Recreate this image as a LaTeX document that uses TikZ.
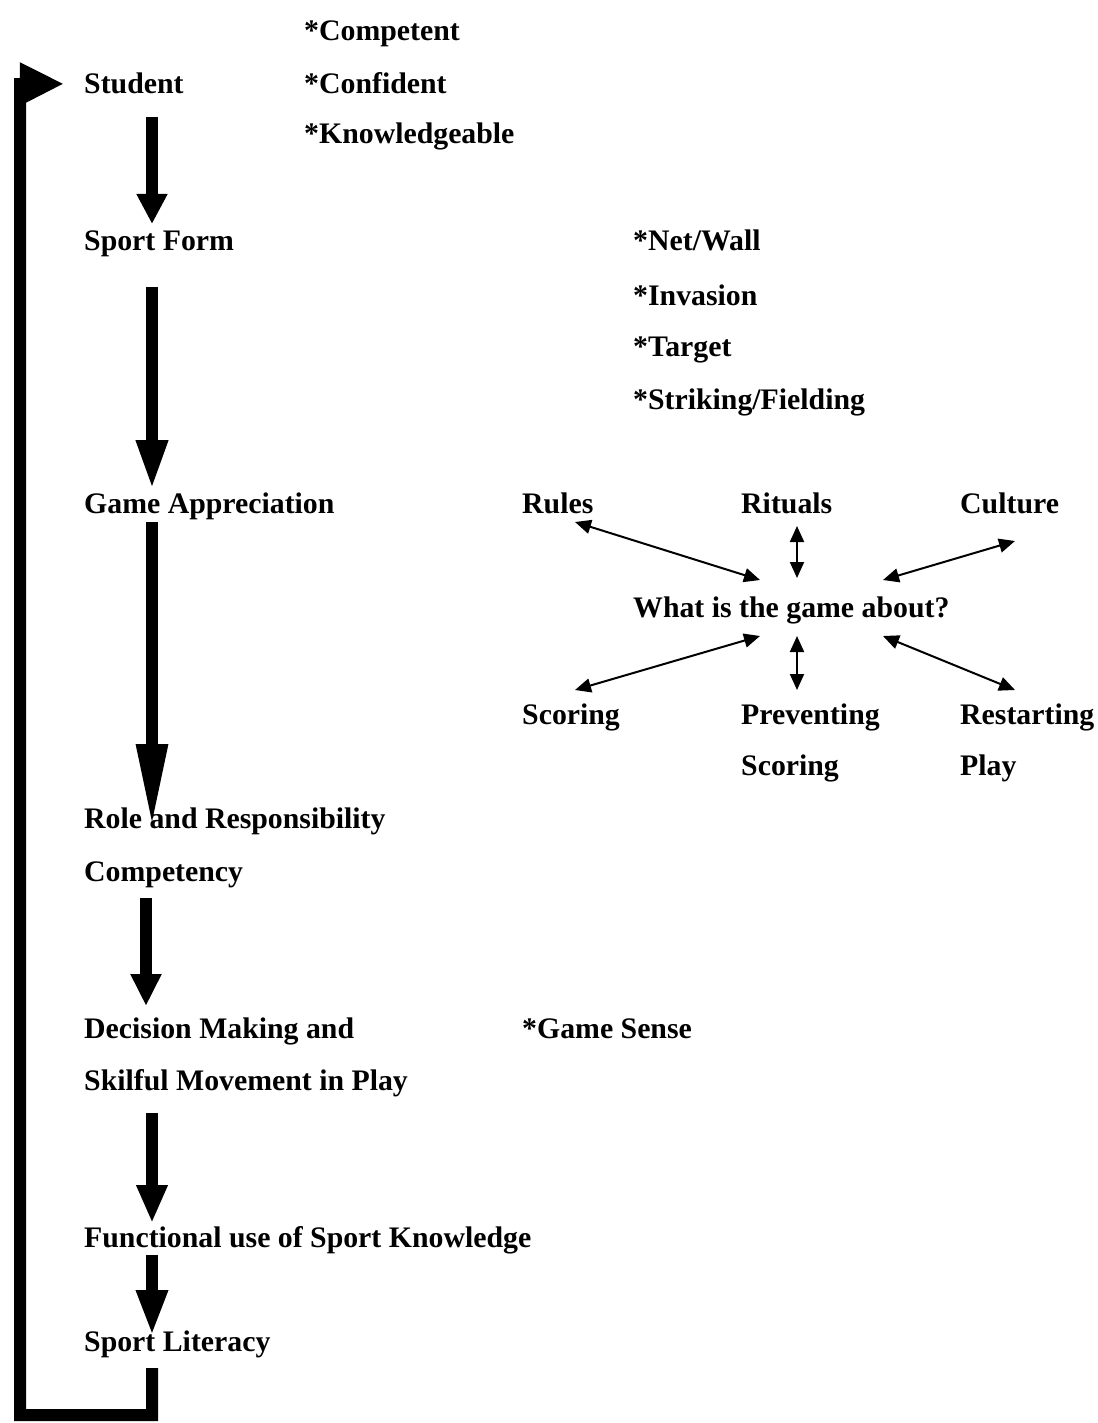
\documentclass[tikz,border=0pt]{standalone}
\usepackage{fontspec}
\setmainfont{Liberation Serif}
\usetikzlibrary{arrows.meta,calc}
\begin{document}
\begin{tikzpicture}[x=1pt,y=-1pt,
  lbl/.style={anchor=base west,inner sep=0pt,font=\fontsize{29.8}{34}\selectfont\bfseries},
  flow/.style={line width=12pt,-{Triangle[length=#1,width=29pt]}},
  flow/.default=32pt,
  link/.style={line width=2pt,{Triangle[length=16pt,width=14pt]}-{Triangle[length=16pt,width=14pt]}},
  loopline/.style={line width=12pt,line join=miter,-{Triangle[length=44pt,width=40pt]}}]
\path[use as bounding box,fill=white] (0,0) rectangle (1097,1423);
% left column
\node[lbl] (student) at (84,94) {Student};
\node[lbl] (sform) at (84,251) {Sport Form};
\node[lbl] (gapp) at (84,513) {Game Appreciation};
\node[lbl] (role) at (84,828) {Role and Responsibility};
\node[lbl] (comp) at (84,881) {Competency};
\node[lbl] (dec) at (84,1038) {Decision Making and};
\node[lbl] (skil) at (84,1090) {Skilful Movement in Play};
\node[lbl] (func) at (84,1247) {Functional use of Sport Knowledge};
\node[lbl] (lit) at (84,1351) {Sport Literacy};
% student attributes
\node[lbl] (c1) at (304,41) {*Competent};
\node[lbl] (c2) at (304,94) {*Confident};
\node[lbl] (c3) at (304,144) {*Knowledgeable};
% sport forms
\node[lbl] (f1) at (633,251) {*Net/Wall};
\node[lbl] (f2) at (633,305) {*Invasion};
\node[lbl] (f3) at (633,356) {*Target};
\node[lbl] (f4) at (633,409) {*Striking/Fielding};
% game appreciation cluster
\node[lbl] (rules) at (522,513) {Rules};
\node[lbl] (rit) at (741,513) {Rituals};
\node[lbl] (cult) at (960,513) {Culture};
\node[lbl] (what) at (633,617) {What is the game about?};
\node[lbl] (scor) at (522,724) {Scoring};
\node[lbl] (prev) at (741,724) {Preventing};
\node[lbl] (prev2) at (741,775) {Scoring};
\node[lbl] (rest) at (960,724) {Restarting};
\node[lbl] (rest2) at (960,775) {Play};
\node[lbl] (gs) at (522,1038) {*Game Sense};
% main flow arrows
\draw[flow=30pt] ($(student.base west)+(68,23)$) -- ($(sform.base west)+(68,-27)$);
\draw[flow=50pt] ($(sform.base west)+(68,36)$) -- ($(gapp.base west)+(68,-23)$);
\draw[flow=84pt] ($(gapp.base west)+(68,9)$) -- ($(role.base west)+(68,0)$);
\draw[flow=32pt] ($(comp.base west)+(62,17)$) -- ($(dec.base west)+(62,-32)$);
\draw[flow=38pt] ($(skil.base west)+(68,23)$) -- ($(func.base west)+(68,-24)$);
\draw[flow=46pt] ($(func.base west)+(68,8)$) -- ($(lit.base west)+(68,-15)$);
% feedback loop
\draw[loopline] ($(lit.base west)+(68,17)$) -- ($(lit.base west)+(68,64)$) -- (20,1415) -- (20,84) -- ($(student.west)+(-20,0)$);
% cluster links
\draw[link] ($(rules.base west)+(53,9)$) -- ($(what.base west)+(127,-37)$);
\draw[link] ($(rit.base west)+(56,13)$) -- ($(what.base west)+(164,-39)$);
\draw[link] ($(cult.base west)+(55,28)$) -- ($(what.base west)+(250,-37)$);
\draw[link] ($(scor.base west)+(53,-34)$) -- ($(what.base west)+(127,19)$);
\draw[link] ($(prev.base west)+(56,-34)$) -- ($(what.base west)+(164,19)$);
\draw[link] ($(rest.base west)+(55,-34)$) -- ($(what.base west)+(250,19)$);
\end{tikzpicture}
\end{document}
